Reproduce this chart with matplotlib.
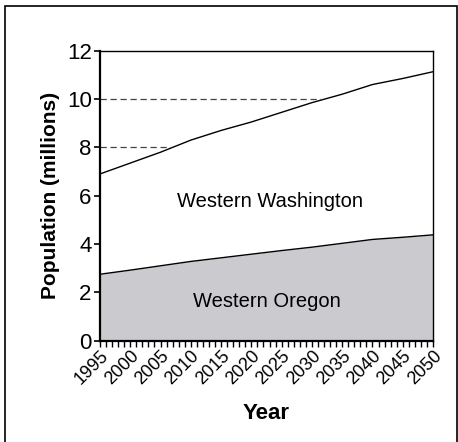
import matplotlib
matplotlib.use("Agg")
import matplotlib.pyplot as plt
from matplotlib.patches import Rectangle
from matplotlib import font_manager

fams = {f.name for f in font_manager.fontManager.ttflist}
FONT = ['Liberation Sans Narrow', 'Liberation Sans', 'DejaVu Sans'] if 'Liberation Sans Narrow' in fams else ['Liberation Sans', 'DejaVu Sans']
plt.rcParams['font.family'] = FONT

years = [1995, 2000, 2005, 2010, 2015, 2020, 2025, 2030, 2035, 2040, 2045, 2050]
total = [6.9, 7.35, 7.8, 8.3, 8.7, 9.05, 9.45, 9.85, 10.2, 10.6, 10.85, 11.13]
oregon = [2.75, 2.92, 3.1, 3.28, 3.43, 3.58, 3.73, 3.87, 4.03, 4.19, 4.28, 4.38]
ref_levels = [8, 10]
ref_ends = [2006.8, 2031.6]
yticks = [0, 2, 4, 6, 8, 10, 12]

fig = plt.figure(figsize=(4.58, 4.42), dpi=100)
ax = fig.add_axes([100/458, 1-340.7/442, 333/458, 290/442])

ax.fill_between(years, 0, oregon, color='#cbcbcf', lw=0)
ax.plot(years, oregon, color='black', lw=1.0)
ax.plot(years, total, color='black', lw=1.0)
for lv, xe in zip(ref_levels, ref_ends):
    ax.plot([1995, xe], [lv, lv], color='#444444', lw=0.9, dashes=(5, 3))

ax.text(2023.1, 5.74, 'Western Washington', ha='center', va='center', fontsize=14.5)
ax.text(2022.5, 1.61, 'Western Oregon', ha='center', va='center', fontsize=14.5)

ax.set_xlim(1995, 2050)
ax.set_ylim(0, 12)
ax.set_yticks(yticks)
ax.set_xticks(years)
ax.set_xticks(list(range(1995, 2051)), minor=True)
ax.tick_params(axis='y', labelsize=16, length=4, width=1.2, direction='out', pad=2)
ax.tick_params(axis='x', which='both', length=4, width=1.0, direction='out')
ax.tick_params(axis='x', labelsize=13, pad=1)
for lab in ax.get_xticklabels():
    lab.set_rotation(45)
    lab.set_ha('right')
    lab.set_rotation_mode('anchor')

for s in ['left', 'bottom']:
    ax.spines[s].set_linewidth(1.6)
for s in ['top', 'right']:
    ax.spines[s].set_linewidth(1.0)

ax.set_xlabel('Year', fontsize=16, fontweight='bold', family=['Liberation Sans', 'DejaVu Sans'], labelpad=11)
ax.set_ylabel('Population (millions)', fontsize=15, fontweight='bold', family=['Liberation Sans', 'DejaVu Sans'], labelpad=5)

fig.patches.append(Rectangle((5/458, -0.05), 452/458, 1.05 - 6/442, transform=fig.transFigure,
                             fill=False, ec='black', lw=1.2, clip_on=False))

fig.savefig('out.png', dpi=100)
